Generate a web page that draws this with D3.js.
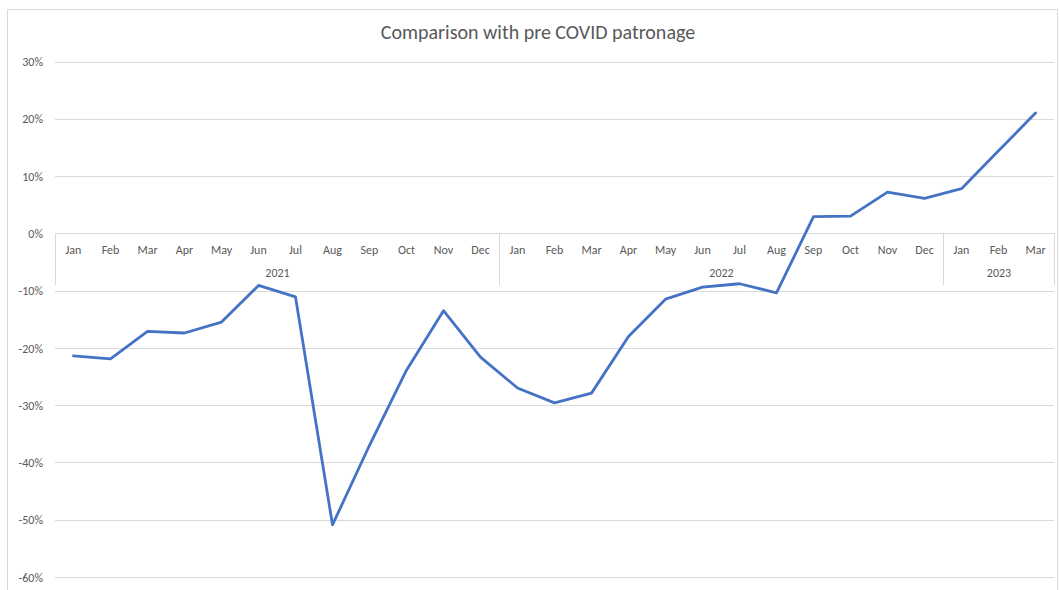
<!DOCTYPE html>
<html><head><meta charset="utf-8">
<script src="https://cdn.jsdelivr.net/npm/d3@7"></script>
<style>html,body{margin:0;padding:0;background:#fff;}svg{display:block;font-family:Calibri,Carlito,Lato,"Open Sans","Noto Sans",sans-serif;}</style>
</head><body>
<svg id="c" width="1059" height="590"></svg>
<script>
const title = "Comparison with pre COVID patronage";
const months = ["Jan","Feb","Mar","Apr","May","Jun","Jul","Aug","Sep","Oct","Nov","Dec",
  "Jan","Feb","Mar","Apr","May","Jun","Jul","Aug","Sep","Oct","Nov","Dec",
  "Jan","Feb","Mar"];
const years = ["2021","2022","2023"];
const yearCounts = [12, 12, 3];
const values = [-21.4,-21.9,-17.1,-17.4,-15.5,-9.1,-11.1,-50.9,-37.0,-23.9,-13.5,-21.6,
  -27.0,-29.6,-27.9,-18.0,-11.5,-9.4,-8.8,-10.4,2.9,3.0,7.2,6.1,
  7.8,14.4,21.0];
const yTicks = [30,20,10,0,-10,-20,-30,-40,-50,-60];

(function(){
const svg = d3.select("#c");
const pLeft = 55, pRight = 1054, pTop = 61.5, pBottom = 577;
const txt = "#595959", grid = "#d9d9d9";
const fs = "12px";

svg.append("rect").attr("x",7.5).attr("y",9.5).attr("width",1050).attr("height",620)
  .attr("fill","#fff").attr("stroke","#d9d9d9").attr("stroke-width",1);

const idx = d3.range(months.length);
const x = d3.scaleBand().domain(idx).range([pLeft, pRight]).padding(0);
const y = d3.scaleLinear().domain([-60, 30]).range([pBottom, pTop]);

svg.append("g").selectAll("line").data(yTicks).join("line")
  .attr("x1", pLeft).attr("x2", pRight)
  .attr("y1", d => Math.round(y(d)) + 0.5).attr("y2", d => Math.round(y(d)) + 0.5)
  .attr("stroke", grid).attr("stroke-width", 1);

const yAxis = d3.axisLeft(y).tickValues(yTicks).tickFormat(d => d + "%").tickSize(0).tickPadding(0);
const ya = svg.append("g").attr("transform", `translate(43,0)`).call(yAxis);
ya.select(".domain").remove();
ya.selectAll("text").attr("fill", txt).style("font-size",fs).attr("dy","0.35em")
  .attr("font-family","Calibri,Carlito,Lato,'Open Sans',sans-serif");

const y0 = Math.round(y(0)) + 0.5;
const boxBottom = 285;
let bounds = [0];
yearCounts.forEach(c => bounds.push(bounds[bounds.length-1] + c));
const bx = d => Math.round(d === months.length ? pRight : x(d)) + 0.5;
svg.append("g").selectAll("line").data(bounds).join("line")
  .attr("x1", bx).attr("x2", bx)
  .attr("y1", y0).attr("y2", boxBottom)
  .attr("stroke", grid).attr("stroke-width", 1);

svg.append("g").selectAll("text").data(idx).join("text")
  .attr("x", i => x(i) + x.bandwidth()/2).attr("y", 254)
  .attr("text-anchor","middle").attr("fill", txt).style("font-size",fs)
  .text(i => months[i]);

svg.append("g").selectAll("text").data(years).join("text")
  .attr("x", (d,i) => (bx(bounds[i]) + bx(bounds[i+1])) / 2)
  .attr("y", 277).attr("text-anchor","middle").attr("fill", txt).style("font-size",fs)
  .text(d => d);

const line = d3.line().x((d,i) => x(i) + x.bandwidth()/2).y(d => y(d));
svg.append("path").datum(values).attr("d", line)
  .attr("fill","none").attr("stroke","#4472C4").attr("stroke-width",2.8)
  .attr("stroke-linejoin","round").attr("stroke-linecap","round");

svg.append("text").attr("x", 538).attr("y", 39).attr("text-anchor","middle")
  .attr("fill", txt).style("font-size","20px").text(title);
})();
</script>
</body></html>
